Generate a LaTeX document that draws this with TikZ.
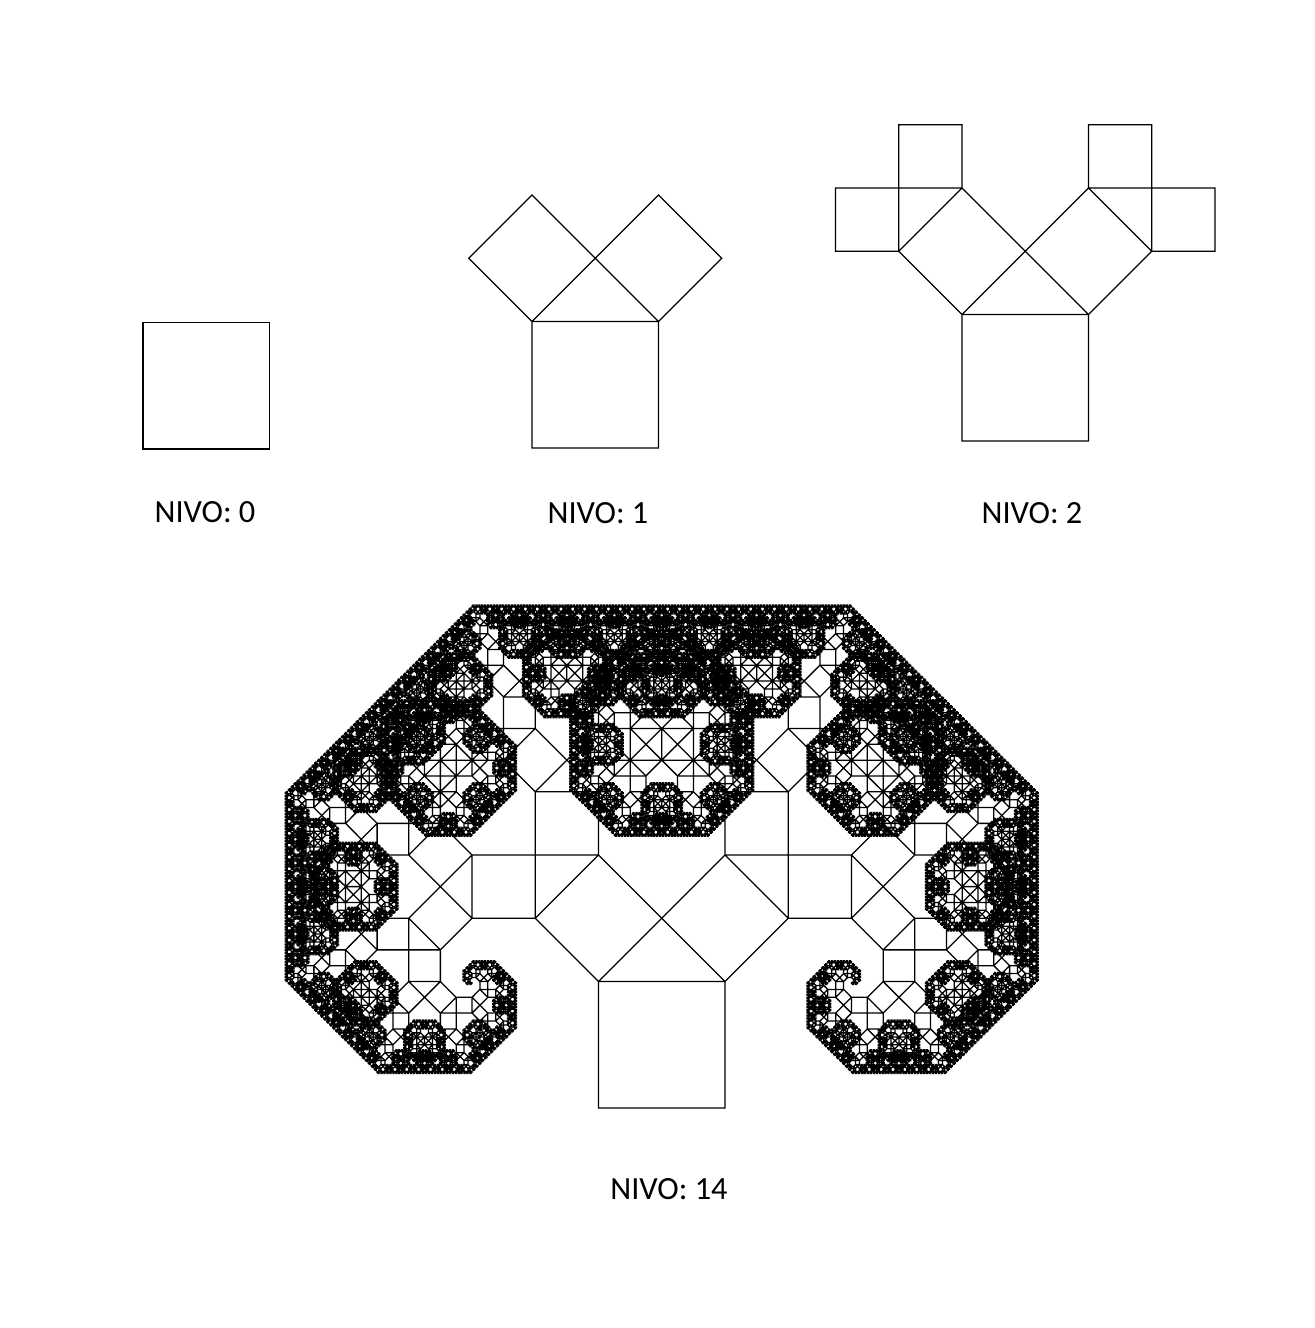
\documentclass[tikz,border=0pt]{standalone}
\usepackage{fontspec}
\setmainfont{Carlito}
\usepackage{tikz}
\usetikzlibrary{calc,positioning}

% registers for the recursive tree
\newdimen\pyX \newdimen\pyY \newdimen\pyU \newdimen\pyV
\newdimen\pyTa \newdimen\pyTb \newdimen\pyUnit
\pyUnit=0.01cm

\makeatletter
\let\pyInvoke\pgfsys@invoke
\makeatother

% a length as a whole number of 1311sp (about 0.02pt)
\def\pyN#1{\number\numexpr(#1)/1311\relax}

% one square at (X,Y) with edge vector (U,V), then its two branches
\def\pytree#1{%
  \pyInvoke{\pyN{\pyX} \pyN{\pyY} m \pyN{\pyX+\pyU} \pyN{\pyY+\pyV} l \pyN{\pyX+\pyU-\pyV} \pyN{\pyY+\pyV+\pyU} l \pyN{\pyX-\pyV} \pyN{\pyY+\pyU} l h}%
  \ifnum#1>0
    % left branch
    \begingroup
      \advance\pyX by -\pyV \advance\pyY by \pyU
      \pyTa=\dimexpr(\pyU-\pyV)/2\relax
      \pyTb=\dimexpr(\pyV+\pyU)/2\relax
      \pyU=\pyTa \pyV=\pyTb
      \expandafter\pytree\expandafter{\the\numexpr#1-1\relax}%
    \endgroup
    % right branch
    \begingroup
      \pyTa=\dimexpr(\pyU-\pyV)/2\relax
      \pyTb=\dimexpr(\pyV+\pyU)/2\relax
      \advance\pyX by \dimexpr-\pyV+\pyTa\relax
      \advance\pyY by \dimexpr\pyU+\pyTb\relax
      \pyTa=\dimexpr(\pyU+\pyV)/2\relax
      \pyTb=\dimexpr(\pyV-\pyU)/2\relax
      \pyU=\pyTa \pyV=\pyTb
      \expandafter\pytree\expandafter{\the\numexpr#1-1\relax}%
    \endgroup
  \fi}

% tree with its base square's lower left corner at (#1,#2), #3 levels
\newcommand\drawtree[3]{%
  \begin{scope}[shift={(#1,#2)}]
    \pgflowlevelsynccm
    \pyX=0pt \pyY=0pt \pyU=126.5\pyUnit \pyV=0pt
    \pyInvoke{q 0.0199296 0 0 0.0199296 0 0 cm 18 w 0 G 0 j}%
    \pytree{#3}%
    \pyInvoke{S Q}%
  \end{scope}}

\tikzset{
  lbl/.style={font=\fontsize{9.2pt}{11pt}\selectfont, inner sep=0pt}
}

\begin{document}
\begin{tikzpicture}[x=0.01cm, y=-0.01cm]
  \useasboundingbox (0,0) rectangle (1314,1328);

  % the trees
  \drawtree{143}{449}{0}
  \drawtree{532}{448}{1}
  \drawtree{962}{441}{2}
  \drawtree{598.5}{1108}{14}

  % levels
  \node[lbl] (nivo0) at (205,512) {NIVO: 0};
  \node[lbl] (nivo1) at (598,513) {NIVO: 1};
  \node[lbl] (nivo2) at (1032,513) {NIVO: 2};
  \node[lbl] (nivo14) at (669,1189) {NIVO: 14};
\end{tikzpicture}
\end{document}
